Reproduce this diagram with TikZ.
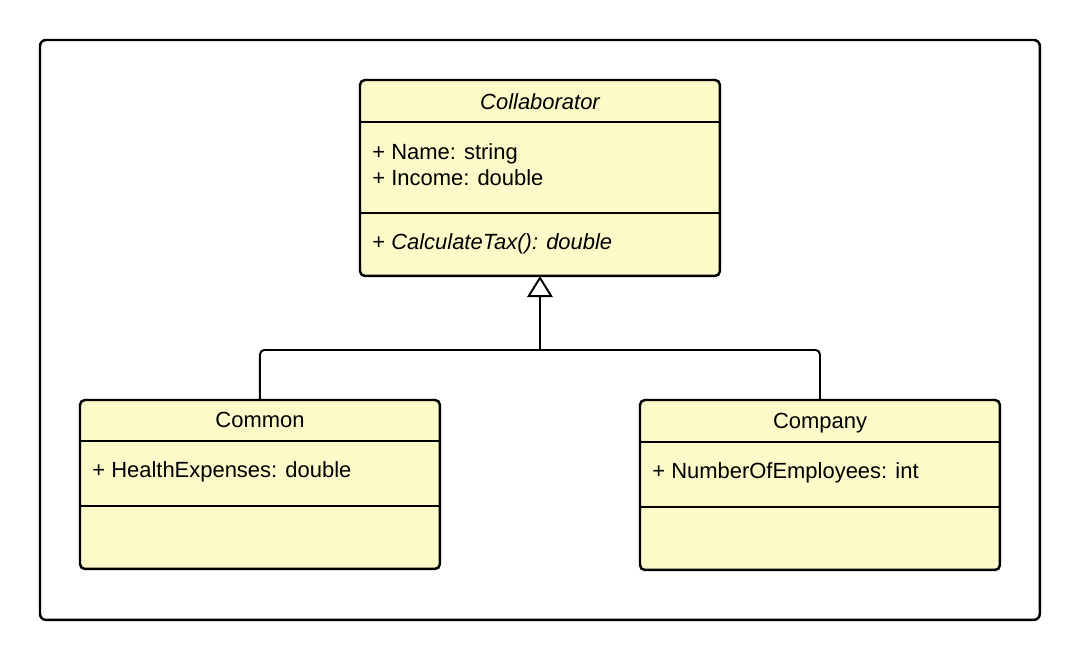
\documentclass[tikz,border=0pt]{standalone}
\usepackage{fontspec}
\setmainfont{Liberation Sans}
\usetikzlibrary{arrows.meta}
\definecolor{umlfill}{RGB}{251,250,200}
\begin{document}
\begin{tikzpicture}[x=0.02cm,y=-0.02cm,
  every node/.style={font=\fontsize{12.5}{15}\selectfont},
  framebox/.style={draw, line width=1.4pt, rounded corners=3.4pt, anchor=north west,
    inner sep=0pt, outer sep=0pt, minimum width=20cm, minimum height=11.6cm},
  classbox/.style={draw, line width=1.4pt, rounded corners=2.8pt, fill=umlfill,
    anchor=north west, inner sep=0pt, outer sep=0pt, minimum width=7.2cm},
  sep/.style={line width=1.4pt},
  label/.style={inner sep=0pt, anchor=base west},
  title/.style={inner sep=0pt, anchor=base},
  conn/.style={line width=1.1pt, rounded corners=2.5pt},
  inherit/.style={line width=1.1pt, -{Triangle[open, length=12pt, width=14.5pt]}}]
\useasboundingbox (0,0) rectangle (1080,660);

% outer frame
\node[framebox] (frame) at (40,40) {};

% abstract base class
\node[classbox, minimum height=3.92cm] (collab) at (360,80) {};
\draw[sep] (collab.west |- 0,122) -- (collab.east |- 0,122);
\draw[sep] (collab.west |- 0,213) -- (collab.east |- 0,213);
\node[title] (collabT) at (540,109) {\itshape Collaborator};
\node[label] (collabA1) at (372,159) {+ Name: string};
\node[label] (collabA2) at (372,185) {+ Income: double};
\node[label] (collabM1) at (372,249) {+ \itshape CalculateTax(): double};

% subclass: Common
\node[classbox, minimum height=3.38cm] (common) at (80,400) {};
\draw[sep] (common.west |- 0,441) -- (common.east |- 0,441);
\draw[sep] (common.west |- 0,506) -- (common.east |- 0,506);
\node[title] (commonT) at (260,427.5) {Common};
\node[label] (commonA1) at (92,477.5) {+ HealthExpenses: double};

% subclass: Company
\node[classbox, minimum height=3.4cm] (company) at (640,400) {};
\draw[sep] (company.west |- 0,442) -- (company.east |- 0,442);
\draw[sep] (company.west |- 0,507) -- (company.east |- 0,507);
\node[title] (companyT) at (820,428) {Company};
\node[label] (companyA1) at (652,478) {+ NumberOfEmployees: int};

% generalization
\coordinate (join) at (collab.south |- 0,350);
\draw[conn] (common.north) |- (join) -| (company.north);
\draw[inherit] (join) -- (collab.south);
\end{tikzpicture}
\end{document}
